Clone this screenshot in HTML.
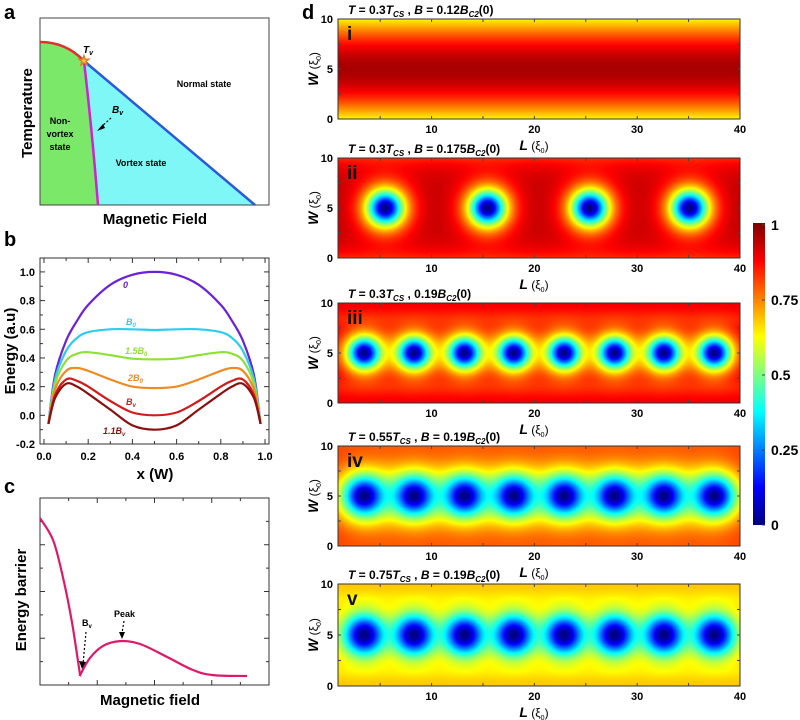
<!DOCTYPE html>
<html><head><meta charset="utf-8">
<style>
html,body{margin:0;padding:0;background:#fff;}
#root{position:relative;width:800px;height:720px;overflow:hidden;font-family:"Liberation Sans",Arial,sans-serif;}
svg text{font-family:"Liberation Sans",Arial,sans-serif;font-weight:bold;}
canvas{position:absolute;}
</style></head>
<body>
<div id="root">
<canvas id="hm0" width="402" height="100" style="left:338px;top:19px"></canvas>
<canvas id="hm1" width="402" height="100" style="left:338px;top:158px"></canvas>
<canvas id="hm2" width="402" height="100" style="left:338px;top:303px"></canvas>
<canvas id="hm3" width="402" height="100" style="left:338px;top:446px"></canvas>
<canvas id="hm4" width="402" height="102" style="left:338px;top:584px"></canvas>
<canvas id="cbar" width="12" height="302" style="left:753px;top:223px"></canvas>
<svg id="svg" width="800" height="720" style="position:absolute;left:0;top:0" xmlns="http://www.w3.org/2000/svg">
 <g>
  <text x="4" y="19" font-size="20">a</text>
  <path d="M40,42 Q66,42 84,61 Q92,130 98,205 L40,205 Z" fill="#7ce86a"/>
  <path d="M84,61 L255,205 L98,205 Q92,130 84,61 Z" fill="#7ff7f7"/>
  <rect x="40" y="18" width="229" height="187" fill="none" stroke="#444" stroke-width="1"/>
  <path d="M40,42 Q66,42 84,61" fill="none" stroke="#e0302a" stroke-width="2.5"/>
  <path d="M84,61 Q92,130 98,205" fill="none" stroke="#d020d8" stroke-width="2.5"/>
  <line x1="84" y1="61" x2="255" y2="205" stroke="#2a5adc" stroke-width="2.5"/>
  <text x="84" y="65" font-size="13" fill="#f7c64a" stroke="#e07a20" stroke-width="0.8" text-anchor="middle">★</text>
  <text x="83" y="53" font-size="10" font-style="italic">T<tspan font-size="7" dy="2">v</tspan></text>
  <text x="112" y="113" font-size="10" font-style="italic">B<tspan font-size="7" dy="2">v</tspan></text>
  <line x1="111" y1="118" x2="101" y2="127" stroke="#000" stroke-width="1.2" stroke-dasharray="2,2"/>
  <path d="M97,131 L103,124 L105,128 Z" fill="#000"/>
  <text x="204" y="87" font-size="9" text-anchor="middle">Normal state</text>
  <text x="60" y="124" font-size="9" text-anchor="middle">Non-</text>
  <text x="60" y="137" font-size="9" text-anchor="middle">vortex</text>
  <text x="60" y="150" font-size="9" text-anchor="middle">state</text>
  <text x="141" y="166" font-size="9" text-anchor="middle">Vortex state</text>
  <text x="155" y="224" font-size="15" text-anchor="middle">Magnetic Field</text>
  <text transform="translate(32,113) rotate(-90)" font-size="15" text-anchor="middle">Temperature</text>
 </g>
 <g id="panelb">
  <text x="4" y="246" font-size="20">b</text>
 </g>
 <g id="panelc">
  <text x="4" y="493" font-size="20">c</text>
 </g>
 <g id="paneld">
  <text x="302" y="19" font-size="20">d</text>
 </g>
</svg>
</div>
<script>
// ---- Panel b data ----
const bX = [0.02,0.05,0.1,0.15,0.2,0.3,0.4,0.5,0.6,0.7,0.8,0.85,0.9,0.95,0.98];
const bSeriesNames = ["0","B0","1.5B0","2B0","Bv","1.1Bv"];
const bE0   = [-0.06,0.28,0.52,0.66,0.77,0.91,0.98,1.0,0.98,0.91,0.77,0.66,0.52,0.28,-0.06];
const bEB0  = [-0.06,0.25,0.45,0.54,0.58,0.60,0.60,0.595,0.60,0.60,0.58,0.54,0.45,0.25,-0.06];
const bE15  = [-0.06,0.22,0.38,0.43,0.44,0.42,0.395,0.39,0.395,0.42,0.44,0.43,0.38,0.22,-0.06];
const bE2   = [-0.06,0.18,0.31,0.33,0.31,0.25,0.20,0.19,0.20,0.25,0.31,0.33,0.31,0.18,-0.06];
const bEBv  = [-0.06,0.14,0.25,0.24,0.20,0.10,0.02,0.0,0.02,0.10,0.20,0.24,0.25,0.14,-0.06];
const bE11  = [-0.06,0.12,0.22,0.20,0.15,0.04,-0.07,-0.10,-0.07,0.04,0.15,0.20,0.22,0.12,-0.06];
const bXTicks = ["0.0","0.2","0.4","0.6","0.8","1.0"];
const bYTicks = ["-0.2","0.0","0.2","0.4","0.6","0.8","1.0"];
// ---- Panel c data ----
const cField = [0,0.57,1.0,1.4,1.75,2.18,2.75,3.49,4.37,5.55,6.68,7.55,9.04];
const cBarrier = [8.93,7.75,5.77,3.32,0.53,1.44,2.09,2.35,2.19,1.5,0.8,0.53,0.48];
// ---- Panel d data ----
const dTitles = [
 ["0.3","B = 0.12"],["0.3","B = 0.175"],["0.3","0.19"],["0.55","B = 0.19"],["0.75","B = 0.19"]];
const dRoman = ["i","ii","iii","iv","v"];
const dVortices = [
 [],
 [5.5,15.45,25.4,35.1],
 [3.45,8.3,13.2,18.0,22.9,27.8,32.6,37.5],
 [3.45,8.3,13.2,18.0,22.9,27.8,32.6,37.5],
 [3.45,8.3,13.2,18.0,22.9,27.8,32.6,37.5]];
const dCoreSize = [1.5,1.75,1.6,2.1,2.0];
const dGaussProfile = [false,false,false,false,true];
const dBaseMax = [0.96,0.95,0.93,0.86,0.68];
const dEdgeDrop = [0.33,0.12,0.06,0.05,0.0];
const dLTicks = ["10","20","30","40"];
const dWTicks = ["0","5","10"];
const cbTicks = ["0","0.25","0.5","0.75","1"];

const NS="http://www.w3.org/2000/svg";
function el(parent,tag,attrs,txt){const e=document.createElementNS(NS,tag);for(const k in attrs)e.setAttribute(k,attrs[k]);if(txt!==undefined)e.textContent=txt;parent.appendChild(e);return e;}
function smooth(pts){let d="M"+pts[0][0]+","+pts[0][1];for(let i=0;i<pts.length-1;i++){const p0=pts[Math.max(0,i-1)],p1=pts[i],p2=pts[i+1],p3=pts[Math.min(pts.length-1,i+2)];const c1=[p1[0]+(p2[0]-p0[0])/6,p1[1]+(p2[1]-p0[1])/6],c2=[p2[0]-(p3[0]-p1[0])/6,p2[1]-(p3[1]-p1[1])/6];d+=" C"+c1[0].toFixed(1)+","+c1[1].toFixed(1)+" "+c2[0].toFixed(1)+","+c2[1].toFixed(1)+" "+p2[0].toFixed(1)+","+p2[1].toFixed(1);}return d;}

// Panel b
(function(){
 const g=document.getElementById('panelb');
 const L=40,R=269,T=258,B=444,xmin=-0.018,xmax=1.018,ymin=-0.2,ymax=1.097;
 const sx=v=>L+(v-xmin)/(xmax-xmin)*(R-L), sy=v=>B-(v-ymin)/(ymax-ymin)*(B-T);
 const fr=el(g,'rect',{x:L,y:T,width:R-L,height:B-T,fill:'none',stroke:'#333','stroke-width':1});
 
 
 for(let i=0;i<=10;i++){const v=i/10,x=sx(v),len=i%2?3:5;
  el(g,'line',{x1:x,y1:B,x2:x,y2:B-len,stroke:'#333'});el(g,'line',{x1:x,y1:T,x2:x,y2:T+len,stroke:'#333'});}
 bXTicks.forEach(t=>{const e=el(g,'text',{x:sx(parseFloat(t)),y:B+16,'font-size':11,'text-anchor':'middle'},t);
  
  });
 for(let i=-2;i<=10;i++){const v=i/10,y=sy(v),len=i%2?3:5;
  el(g,'line',{x1:L,y1:y,x2:L+len,y2:y,stroke:'#333'});el(g,'line',{x1:R,y1:y,x2:R-len,y2:y,stroke:'#333'});}
 bYTicks.forEach(t=>{const e=el(g,'text',{x:L-5,y:sy(parseFloat(t))+4,'font-size':11,'text-anchor':'end'},t);
  
  });
 const series=[bE0,bEB0,bE15,bE2,bEBv,bE11];
 const colors=['#6a22d8','#2ccdee','#90e03a','#f08a22','#d31a1a','#8a1010'];
 series.forEach((s,k)=>{const pts=bX.map((x,i)=>[sx(x),sy(s[i])]);
  const p=el(g,'path',{d:smooth(pts),fill:'none',stroke:colors[k],'stroke-width':2.2});
  
  });
 const labs=[[123,288,'0',''],[126,325,'B','0'],[125,354,'1.5B','0'],[128,381,'2B','0'],[126,405,'B','v'],[103,434,'1.1B','v']];
 labs.forEach((l,k)=>{const t=el(g,'text',{x:l[0],y:l[1],'font-size':9,fill:colors[k],'font-style':'italic'},l[2]);
  if(l[3])el(t,'tspan',{'font-size':6,dy:2},l[3]);
  
  });
 const xt=el(g,'text',{x:155,y:479,'font-size':15,'text-anchor':'middle'},'x (W)');
 
 
 const yt=el(g,'text',{transform:'translate(10,351) rotate(-90)','font-size':15,'text-anchor':'middle',dy:5},'Energy (a.u)');
 
 
})();

// Panel c
(function(){
 const g=document.getElementById('panelc');
 const L=40,R=269,T=498,B=685;
 const sx=v=>L+v/10*(R-L), sy=v=>B-v/10*(B-T);
 const fr=el(g,'rect',{x:L,y:T,width:R-L,height:B-T,fill:'none',stroke:'#333','stroke-width':1});
 
 
 for(let i=1;i<8;i++){const x=L+i*(R-L)/8,len=i%2?3:5;
  el(g,'line',{x1:x,y1:B,x2:x,y2:B-len,stroke:'#333'});el(g,'line',{x1:x,y1:T,x2:x,y2:T+len,stroke:'#333'});}
 for(let i=1;i<8;i++){const y=T+i*(B-T)/8,len=i%2?3:5;
  el(g,'line',{x1:L,y1:y,x2:L+len,y2:y,stroke:'#333'});el(g,'line',{x1:R,y1:y,x2:R-len,y2:y,stroke:'#333'});}
 const pts=cField.map((x,i)=>[sx(x),sy(cBarrier[i])]);
 const p=el(g,'path',{d:smooth(pts.slice(0,5))+" "+smooth(pts.slice(4)).replace('M','L'),fill:'none',stroke:'#e0186a','stroke-width':2.2});
 
 
 const bv=el(g,'text',{x:82,y:626,'font-size':9,'font-weight':'normal'},'B');el(bv,'tspan',{'font-size':6,dy:2},'v');
 
 
 el(g,'line',{x1:86,y1:632,x2:83,y2:664,stroke:'#000','stroke-width':1.2,'stroke-dasharray':'2,2'});
 el(g,'path',{d:'M82,669 L79,661 L86,662 Z',fill:'#000'});
 const pk=el(g,'text',{x:114,y:617,'font-size':9,'font-weight':'normal'},'Peak');
 
 
 el(g,'line',{x1:124,y1:621,x2:122,y2:633,stroke:'#000','stroke-width':1.2,'stroke-dasharray':'2,2'});
 el(g,'path',{d:'M122,639 L119,632 L125,632 Z',fill:'#000'});
 const xt=el(g,'text',{x:150,y:705,'font-size':15,'text-anchor':'middle'},'Magnetic field');
 
 
 const yt=el(g,'text',{transform:'translate(26,600) rotate(-90)','font-size':15,'text-anchor':'middle'},'Energy barrier');
 
 
})();

function jet(v){v=Math.max(0,Math.min(1,v));const f=x=>Math.max(0,Math.min(1,x));
 const r=f(Math.min(4*v-1.5,-4*v+4.5)),g=f(Math.min(4*v-0.5,-4*v+3.5)),b=f(Math.min(4*v+0.5,-4*v+2.5));
 return [r*255,g*255,b*255];}

(function(){
 const g=document.getElementById('paneld');
 const tops=[19,158,303,446,584],hs=[100,100,100,100,102];
 const Lmin=0.9,Lmax=40,X0=338,X1=740;
 const sx=v=>X0+(v-Lmin)/(Lmax-Lmin)*(X1-X0);
 for(let k=0;k<5;k++){
  const cv=document.getElementById('hm'+k),ctx=cv.getContext('2d'),W=cv.width,H=cv.height;
  const img=ctx.createImageData(W,H);
  for(let j=0;j<H;j++){const y=10*(1-(j+0.5)/H);
   for(let i=0;i<W;i++){const x=Lmin+(i+0.5)/W*(Lmax-Lmin);
    let v;
    if(k===0){v=0.63+0.33*Math.sin(Math.PI*y/10);}
    else{
     const d=Math.min(y,10-y);
     v=dBaseMax[k]*(1-dEdgeDrop[k]*Math.exp(-d/1.3));
     if(k===2){v-=0.05*Math.exp(-Math.pow((d-1.6)/0.9,2));v+=0.02*Math.exp(-Math.pow((d)/0.5,2));}
     if(k===4){v-=0.03*Math.exp(-Math.pow((d-1.5)/0.8,2));}
     const a=dCoreSize[k];
     dVortices[k].forEach(cx=>{const r=Math.hypot(x-cx,y-5);
      if(dGaussProfile[k]){v*=1-Math.exp(-(r/a)*(r/a));}
      else{const t=Math.tanh(r/a);v*=t*t;}});
    }
    const c=jet(v),p=(j*W+i)*4;img.data[p]=c[0];img.data[p+1]=c[1];img.data[p+2]=c[2];img.data[p+3]=255;}}
  ctx.putImageData(img,0,0);
  const T=tops[k],B=T+hs[k];
  const fr=el(g,'rect',{x:X0,y:T,width:X1-X0,height:B-T,fill:'none',stroke:'#333','stroke-width':1});
  
  
  for(let l=5;l<40;l+=5){const x=sx(l);el(g,'line',{x1:x,y1:B,x2:x,y2:B-3,stroke:'#444'});el(g,'line',{x1:x,y1:T,x2:x,y2:T+3,stroke:'#444'});}
  [2.5,5,7.5].forEach(w=>{const y=B-w/10*(B-T);el(g,'line',{x1:X0,y1:y,x2:X0+3,y2:y,stroke:'#444'});el(g,'line',{x1:X1,y1:y,x2:X1-3,y2:y,stroke:'#444'});});
  dLTicks.forEach(t=>{const e=el(g,'text',{x:sx(parseFloat(t)),y:B+14,'font-size':11,'text-anchor':'middle'},t);
   
   });
  dWTicks.forEach(t=>{const e=el(g,'text',{x:X0-5,y:B-parseFloat(t)/10*(B-T)+4,'font-size':11,'text-anchor':'end'},t);
   
   });
  const rn=el(g,'text',{x:347,y:T+21,'font-size':19,fill:'#111'},dRoman[k]);
  
  
  const tt=el(g,'text',{x:348,y:T-5,'font-size':12});
  
  
  el(tt,'tspan',{'font-style':'italic'},'T');
  el(tt,'tspan',{},' = '+dTitles[k][0]);
  el(tt,'tspan',{'font-style':'italic'},'T');
  el(tt,'tspan',{'font-size':8,dy:3,'font-style':'italic'},'CS');
  const parts=dTitles[k][1].split(' = ');
  if(parts.length>1){el(tt,'tspan',{dy:-3},' , ');el(tt,'tspan',{'font-style':'italic'},'B');el(tt,'tspan',{},' = '+parts[1]);}
  else{el(tt,'tspan',{dy:-3},' , '+parts[0]);}
  el(tt,'tspan',{'font-style':'italic'},'B');
  el(tt,'tspan',{'font-size':8,dy:3,'font-style':'italic'},'C2');
  el(tt,'tspan',{dy:-3},'(0)');
  const xl=el(g,'text',{x:534,y:B+31,'font-size':14,'text-anchor':'middle'});
  el(xl,'tspan',{'font-style':'italic'},'L');el(xl,'tspan',{'font-weight':'normal','font-size':12},' (ξ');el(xl,'tspan',{'font-size':7,dy:3,'font-weight':'normal'},'0');el(xl,'tspan',{dy:-3,'font-weight':'normal','font-size':12},')');
  
  
  const yl=el(g,'text',{transform:'translate(318,'+((T+B)/2)+') rotate(-90)','font-size':14,'text-anchor':'middle'});
  el(yl,'tspan',{'font-style':'italic'},'W');el(yl,'tspan',{'font-weight':'normal','font-size':12},' (ξ');el(yl,'tspan',{'font-size':7,dy:3,'font-weight':'normal'},'0');el(yl,'tspan',{dy:-3,'font-weight':'normal','font-size':12},')');
  
  
 }
 const cv=document.getElementById('cbar'),ctx=cv.getContext('2d');
 for(let j=0;j<cv.height;j++){const c=jet(1-j/(cv.height-1));ctx.fillStyle='rgb('+c.map(Math.round).join(',')+')';ctx.fillRect(0,j,cv.width,1);}
 cbTicks.forEach(t=>{const y=525-parseFloat(t)*300;
  el(g,'line',{x1:762,y1:y,x2:765,y2:y,stroke:'#444'});
  const e=el(g,'text',{x:771,y:y+5,'font-size':14},t);
  
  });
})();
</script>
</body></html>
